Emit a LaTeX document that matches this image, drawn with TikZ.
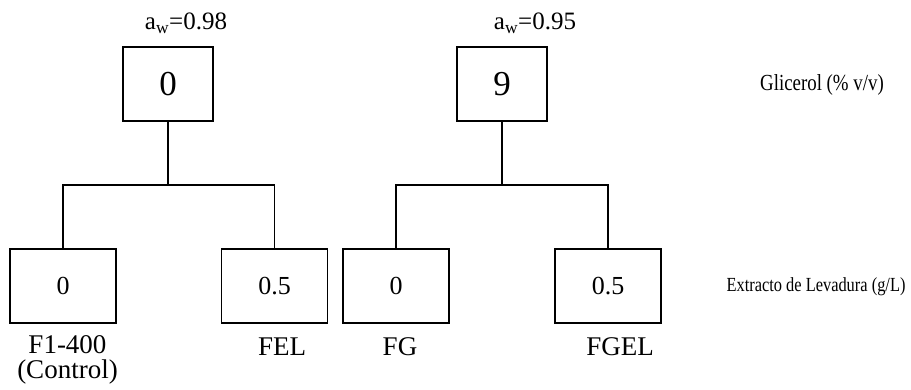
\documentclass[tikz,border=0pt]{standalone}
\usepackage{fontspec}
\setmainfont{Liberation Serif}
\newfontfamily\narrowfont[FakeStretch=0.82]{Liberation Serif}
\usepackage{tikz}
\usetikzlibrary{positioning}

\tikzset{
  topbox/.style={draw, line width=1.8pt, minimum width=90pt, minimum height=74pt, inner sep=0pt, font=\fontsize{35}{40}\selectfont},
  levbox/.style={draw, line width=1.8pt, minimum width=106pt, minimum height=74pt, inner sep=0pt, font=\fontsize{26}{30}\selectfont},
  caselabel/.style={inner sep=0pt, align=center, font=\fontsize{27}{25}\selectfont},
  awlabel/.style={inner sep=0pt, font=\fontsize{25}{28}\selectfont},
  axislabel/.style={inner sep=0pt, font=\narrowfont\fontsize{23}{26}\selectfont},
  link/.style={line width=1.8pt}
}

\begin{document}
\begin{tikzpicture}[x=1pt, y=-1pt]
\useasboundingbox (0,0) rectangle (911,390);

% glicerol
\node[topbox] (g0) at (168,84) {0};
\node[topbox] (g9) at (502,84) {9};
\node[awlabel] (aw0) at (186,23) {a\textsubscript{w}=0.98};
\node[awlabel] (aw9) at (535,23) {a\textsubscript{w}=0.95};

% extracto de levadura
\node[levbox] (f1) at (63,286) {0};
\node[levbox] (fel) at (274.5,286) {0.5};
\node[levbox] (fg) at (396,286) {0};
\node[levbox] (fgel) at (608,286) {0.5};

\node[caselabel] (nf1) at (67.5,359.5) {F1-400\\(Control)};
\node[caselabel] (nfel) at (282,347) {FEL};
\node[caselabel] (nfg) at (400,347) {FG};
\node[caselabel] (nfgel) at (620,347) {FGEL};

\node[axislabel] (glic) at (822,85) {Glicerol (\% v/v)};
\node[axislabel, font=\narrowfont\fontsize{20}{24}\selectfont] (extr) at (816,287) {Extracto de Levadura (g/L)};

% ramas
\coordinate (j0) at (168,185);
\coordinate (j9) at (502,185);
\draw[link] (g0.south) -- (j0);
\draw[link] (g9.south) -- (j9);
\draw[link] (f1.north) |- (j0) -| (fel.north);
\draw[link] (fg.north) |- (j9) -| (fgel.north);
\end{tikzpicture}
\end{document}
